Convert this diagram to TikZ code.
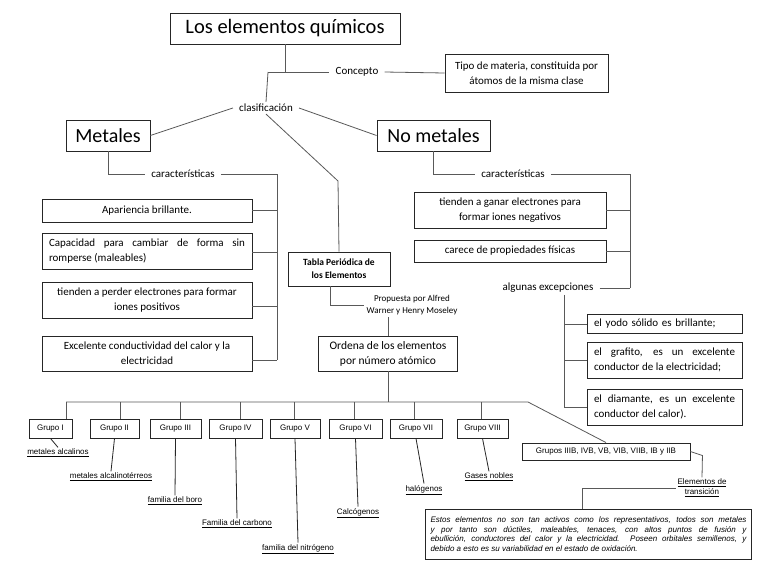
\documentclass[tikz,border=0pt]{standalone}
\usepackage{fontspec}
\setmainfont{Carlito}
\newfontfamily\arialfont{Liberation Sans}
\usetikzlibrary{calc}
\hyphenpenalty=10000
\exhyphenpenalty=10000

\tikzset{
  linea/.style={draw=black!65, line width=0.8pt},
  caja/.style={draw=black!85, line width=0.9pt, align=center, inner sep=2pt, font=\fontsize{11}{15}\selectfont},
  etiqueta/.style={inner xsep=6pt, inner ysep=2pt, font=\fontsize{11}{14}\selectfont},
  grupo/.style={draw=black!85, line width=0.9pt, minimum height=19pt, inner sep=1pt, font=\arialfont\fontsize{8}{9}\selectfont},
  familia/.style={inner sep=1.5pt, align=center, font=\arialfont\fontsize{8}{10}\selectfont},
}

\begin{document}
\begin{tikzpicture}[x=1pt,y=-1pt]
            \useasboundingbox (0,0) rectangle (768,576);
            \fill[white] (0,0) rectangle (768,576);

            % 标题与概念
            \node[caja, minimum width=230pt, minimum height=31pt, font=\fontsize{20.5}{23}\selectfont] (titulo) at (285,28.5) {Los elementos químicos};
            \node[etiqueta] (concepto) at (357,72) {Concepto};
            \node[caja, minimum width=163pt, minimum height=38pt] (tipo) at (526.5,73) {Tipo de materia, constituida por\\átomos de la misma clase};
            \coordinate (nudo) at (268,72);
            \draw[linea] (titulo.south) -- (titulo.south |- nudo);
            \draw[linea] (nudo) -- (concepto.west);
            \draw[linea] (concepto.east) -- (tipo.west);

            % 分类
            \node[etiqueta] (clasif) at (266,108) {clasificación};
            \node[caja, minimum width=84pt, minimum height=31pt, font=\fontsize{20}{24}\selectfont] (metales) at (108,135.5) {Metales};
            \node[caja, minimum width=113pt, minimum height=31pt, font=\fontsize{20}{24}\selectfont] (nometales) at (433.5,135.5) {No metales};
            \node[caja, minimum width=102pt, minimum height=34pt, font=\bfseries\fontsize{9.5}{13}\selectfont] (tabla) at (339,269) {Tabla Periódica de\\los Elementos};
            \coordinate (quiebre) at (338,181);
            \draw[linea] (nudo) -- (clasif.north);
            \draw[linea] (clasif.west) -- (metales.east);
            \draw[linea] (clasif.east) -- (nometales.west);
            \draw[linea] (clasif.south) -- (quiebre) -- (tabla.north);

            % 金属的特征
            \node[etiqueta] (caracM) at (183,174) {características};
            \node[caja, minimum width=210pt, minimum height=23pt] (m1) at (147,210.5) {Apariencia brillante.};
            \node[caja, minimum width=210pt, minimum height=36pt, text width=196pt, align=justify] (m2) at (147,251) {Capacidad para cambiar de forma sin romperse (maleables)};
            \node[caja, minimum width=210pt, minimum height=36pt] (m3) at (147,300) {tienden a perder electrones para formar\\iones positivos};
            \node[caja, minimum width=210pt, minimum height=35pt] (m4) at (147,353.5) {Excelente conductividad del calor y la\\electricidad};
            \coordinate (colM) at (277,174);
            \draw[linea] (metales.south) |- (caracM.west);
            \draw[linea] (caracM.east) -- (colM) -- ([yshift=-6.5pt]colM |- m4.east);
            \foreach \m/\d in {m1/0,m2/-1,m3/-6,m4/-6.5}
                \draw[linea] ([yshift=\d pt]\m.east) -- ([yshift=\d pt]\m.east -| colM);

            % 非金属的特征
            \node[etiqueta] (caracN) at (513,174) {características};
            \node[caja, minimum width=192pt, minimum height=36pt] (n1) at (510,210) {tienden a ganar electrones para\\formar iones negativos};
            \node[caja, minimum width=192pt, minimum height=22pt] (n2) at (510,251) {carece de propiedades físicas};
            \node[etiqueta] (algunas) at (548,288) {algunas excepciones};
            \coordinate (colN) at (630,174);
            \draw[linea] (nometales.south) |- (caracN.west);
            \draw[linea] (caracN.east) -- (colN) -- (colN |- algunas.east);
            \foreach \n in {n1,n2,algunas}
                \draw[linea] (\n.east) -- (\n.east -| colN);

            % 例外
            \node[caja, minimum width=155pt, minimum height=19pt, text width=141pt, inner xsep=7pt, align=left] (e1) at (664.5,324) {el yodo sólido es brillante;};
            \node[caja, minimum width=155pt, minimum height=36pt, text width=141pt, inner xsep=7pt, align=justify] (e2) at (664.5,360) {el grafito, es un excelente\linebreak conductor de la electricidad;};
            \node[caja, minimum width=155pt, minimum height=36pt, text width=141pt, inner xsep=7pt, align=justify] (e3) at (664.5,407) {el diamante, es un excelente\linebreak conductor del calor).};
            \coordinate (colE) at (564,297);
            \draw[linea] (algunas.south -| colE) -- (colE |- e3.west);
            \foreach \e in {e1,e2,e3}
                \draw[linea] (colE |- \e.west) -- (\e.west);

            % 周期表
            \node[inner sep=2pt, align=center, font=\fontsize{9}{12}\selectfont] (propuesta) at (412,305) {Propuesta por Alfred\\Warner y Henry Moseley};
            \node[caja, minimum width=139pt, minimum height=35pt, font=\fontsize{11.5}{15}\selectfont] (ordena) at (388,353.5) {Ordena de los elementos\\por número atómico};
            \draw[linea] ([xshift=-9pt]tabla.south) |- (propuesta.west);
            \draw[linea] (propuesta.south -| ordena.north) -- (ordena.north);

            % 各族
            \node[grupo, minimum width=168pt, minimum height=17pt] (grupos) at (606,451.5) {Grupos IIIB, IVB, VB, VIB, VIIB, IB y IIB};
            \coordinate (barraI) at (66,402);
            \coordinate (barraF) at (528,402);
            \draw[linea] (ordena.south) -- (ordena.south |- barraF);
            \draw[linea] (barraI) -- (barraF) -- (grupos.north);
            \foreach \n/\cx/\w/\bx/\nombre in {1/50.5/43/66/I, 2/114.5/49/120/II, 3/175.5/51/180/III, 4/235.5/53/240/IV, 5/295/50/294/V, 6/355.5/53/354/VI, 7/416/52/414/VII, 8/482.5/51/481/VIII}{
                \node[grupo, minimum width=\w pt] (g\n) at (\cx,428.5) {Grupo \nombre};
                \draw[linea] (g\n.north -| \bx,0) -- (\bx,402);
            }
            \foreach \n/\lx/\ly/\txt in {1/58/453/metales alcalinos, 2/111/477/metales alcalinotérreos, 3/175/501/familia del boro, 4/237/524/Familia del carbono, 5/298/549/familia del nitrógeno, 6/358/513/Calcógenos, 7/424/490/halógenos, 8/489/477/Gases nobles}{
                \node[familia] (f\n) at (\lx,\ly) {\underline{\txt}};
                \draw[linea, draw=black!85] (g\n.south) -- (f\n.north);
            }

            % 过渡元素
            \node[familia] (elem) at (702,488) {\underline{Elementos de}\\\underline{transición}};
            \node[caja, text width=316pt, inner sep=5pt, minimum height=50pt, align=justify, font=\arialfont\itshape\fontsize{8}{9.5}\selectfont] (parrafo) at (588.5,534) {Estos elementos no son tan activos como los representativos, todos son metales\linebreak y por tanto son dúctiles, maleables, tenaces, con altos puntos de fusión y\linebreak ebullición, conductores del calor y la electricidad. Poseen orbitales semillenos, y\linebreak debido a esto es su variabilidad en el estado de oxidación.};
            \draw[linea] (grupos.east) -- ++(12,4) -- (elem.north);
            \draw[linea] (elem.west) -| ([xshift=-6.5pt]parrafo.north);
\end{tikzpicture}
\end{document}
